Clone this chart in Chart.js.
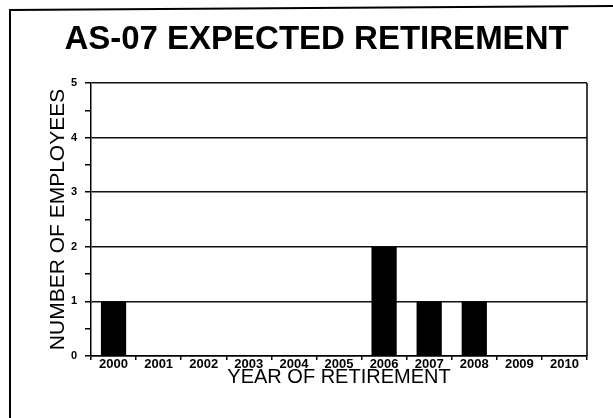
<!DOCTYPE html>
<html>
<head>
<meta charset="utf-8">
<title>AS-07 Expected Retirement</title>
<script src="https://cdn.jsdelivr.net/npm/chart.js@4/dist/chart.umd.min.js"></script>
<style>
  html, body { margin: 0; padding: 0; background: #fff; }
  #wrap { width: 613px; height: 418px; }
</style>
</head>
<body>
<div id="wrap"><canvas id="chart" width="613" height="418"></canvas></div>
<script>
// Retirement years and number of employees expected to retire in each
const years = ['2000', '2001', '2002', '2003', '2004', '2005', '2006', '2007', '2008', '2009', '2010'];
const employees = [1, 0, 0, 0, 0, 0, 2, 1, 1, 0, 0];
const yTicks = [0, 1, 2, 3, 4, 5];

const FONT = "'Liberation Sans', Arial, Helvetica, sans-serif";

// Page frame plus the right-hand edge of the plot box
const framePlugin = {
  id: 'frame',
  beforeDraw(chart) {
    const { ctx } = chart;
    ctx.save();
    ctx.strokeStyle = '#000';
    ctx.lineWidth = 2;
    ctx.beginPath();
    ctx.moveTo(10, 418);
    ctx.lineTo(10, 10);
    ctx.lineTo(613, 6);
    ctx.stroke();
    ctx.restore();
  },
  afterDraw(chart) {
    const { ctx, chartArea: a } = chart;
    ctx.save();
    ctx.strokeStyle = '#000';
    ctx.lineWidth = 1.5;
    ctx.beginPath();
    ctx.moveTo(a.right, a.top);
    ctx.lineTo(a.right, a.bottom);
    ctx.stroke();
    ctx.restore();
  }
};

new Chart(document.getElementById('chart'), {
  type: 'bar',
  data: {
    labels: years,
    datasets: [{
      label: 'Employees',
      data: employees,
      backgroundColor: '#000',
      borderWidth: 0,
      categoryPercentage: 1,
      barPercentage: 0.56
    }]
  },
  options: {
    responsive: false,
    devicePixelRatio: 1,
    animation: false,
    layout: { padding: { left: 46, right: 26, top: 0, bottom: 0 } },
    plugins: {
      legend: { display: false },
      tooltip: { enabled: false },
      title: {
        display: true,
        text: 'AS-07 EXPECTED RETIREMENT',
        color: '#000',
        font: { family: FONT, size: 33, weight: 'bold', lineHeight: 1 },
        padding: { top: 23, bottom: 27 }
      }
    },
    scales: {
      x: {
        offset: true,
        grid: {
          offset: true,
          drawOnChartArea: false,
          tickColor: '#000',
          tickLength: 4,
          lineWidth: 1.5
        },
        border: { display: true, color: '#000', width: 1.5 },
        ticks: {
          color: '#000',
          font: { family: FONT, size: 13, weight: 'bold', lineHeight: 1 },
          padding: -2,
          maxRotation: 0,
          autoSkip: false
        },
        title: {
          display: true,
          text: 'YEAR OF RETIREMENT',
          color: '#000',
          font: { family: FONT, size: 20, lineHeight: 1 },
          padding: { top: 0, bottom: 31 }
        },
        afterFit(scale) { scale.height = 62; }
      },
      y: {
        min: 0,
        max: 5,
        ticks: {
          stepSize: 0.5,
          color: '#000',
          font: { family: FONT, size: 11, weight: 'bold' },
          padding: 8,
          callback: (v) => (yTicks.includes(v) ? String(v) : '')
        },
        grid: {
          color: (c) => (c.tick && Number.isInteger(c.tick.value) ? '#111' : 'rgba(0,0,0,0)'),
          lineWidth: 1.5,
          tickColor: '#000',
          tickLength: 6
        },
        border: { display: true, color: '#000', width: 1.5 },
        title: {
          display: true,
          text: 'NUMBER OF EMPLOYEES',
          color: '#000',
          font: { family: FONT, size: 21, lineHeight: 1 },
          padding: { top: 2, bottom: 0 }
        },
        afterFit(scale) { scale.width = 45; }
      }
    }
  },
  plugins: [framePlugin]
});
</script>
</body>
</html>
